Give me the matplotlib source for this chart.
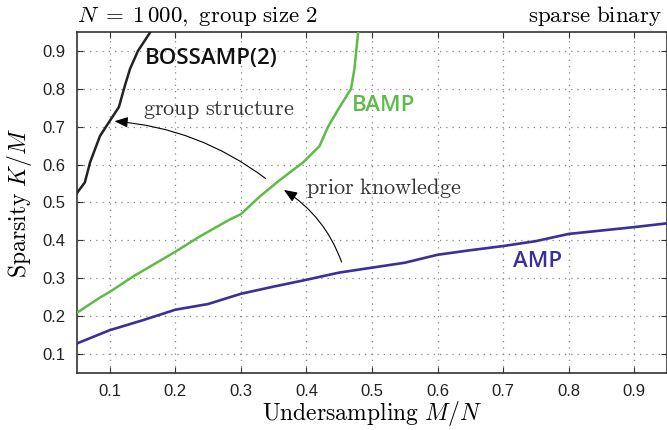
import numpy as np
import matplotlib
matplotlib.use("Agg")
from matplotlib import pyplot as plt

plt.rcParams['mathtext.fontset'] = 'cm'
plt.rcParams['font.family'] = ['Liberation Sans', 'DejaVu Sans']

# phase transition curves (undersampling M/N vs sparsity K/M)
amp_x = [0.05, 0.10, 0.15, 0.20, 0.25, 0.30, 0.35, 0.40, 0.45, 0.50, 0.55,
         0.60, 0.65, 0.70, 0.75, 0.80, 0.85, 0.90, 0.95]
amp_y = [0.128, 0.163, 0.189, 0.217, 0.232, 0.259, 0.278, 0.296, 0.315, 0.328, 0.341,
         0.362, 0.374, 0.385, 0.398, 0.417, 0.426, 0.435, 0.445]

bamp_x = [0.05, 0.085, 0.10, 0.135, 0.20, 0.237, 0.283, 0.30, 0.329, 0.36,
          0.395, 0.42, 0.433, 0.45, 0.468, 0.473, 0.476, 0.479]
bamp_y = [0.209, 0.249, 0.264, 0.304, 0.370, 0.410, 0.455, 0.469, 0.516, 0.560,
          0.606, 0.649, 0.700, 0.750, 0.800, 0.850, 0.900, 0.950]

boss_x = [0.05, 0.062, 0.070, 0.085, 0.095, 0.114, 0.123, 0.131, 0.143, 0.162]
boss_y = [0.525, 0.553, 0.606, 0.675, 0.702, 0.752, 0.808, 0.853, 0.900, 0.950]

xticks = [0.1, 0.2, 0.3, 0.4, 0.5, 0.6, 0.7, 0.8, 0.9]
yticks = [0.1, 0.2, 0.3, 0.4, 0.5, 0.6, 0.7, 0.8, 0.9]

c_amp = '#3b2f98'
c_bamp = '#5dbb46'
c_boss = '#222222'

fig = plt.figure(figsize=(6.67, 4.30), dpi=100)
ax = fig.add_axes([0.1154, 0.1326, 0.8846, 0.793])

ax.plot(amp_x, amp_y, color=c_amp, lw=1.9, zorder=3)
ax.plot(bamp_x, bamp_y, color=c_bamp, lw=1.8, zorder=3)
ax.plot(boss_x, boss_y, color=c_boss, lw=1.8, zorder=3)

ax.set_xlim(0.05, 0.95)
ax.set_ylim(0.05, 0.95)
ax.set_xticks(xticks)
ax.set_yticks(yticks)
ax.set_xticklabels(["%.1f" % v for v in xticks])
ax.set_yticklabels(["%.1f" % v for v in yticks])
ax.tick_params(direction='in', length=4, width=0.8, top=True, right=True,
               labelsize=12, pad=8, color='#333333', labelcolor='#222222')
ax.grid(True, linestyle=(0, (1, 4)), color='#888888', lw=0.9)
for s in ax.spines.values():
    s.set_linewidth(1.2)
    s.set_color('#333333')

ax.set_xlabel(r"$\mathrm{Undersampling}\ M/N$", fontsize=17, labelpad=0)
ax.set_ylabel(r"$\mathrm{Sparsity}\ K/M$", fontsize=17, labelpad=6)

fig.text(0.1154, 0.962, r"$N\;=\;1\,000,\ \mathrm{group\ size\ 2}$", fontsize=16.5,
         ha='left', va='center')
fig.text(0.993, 0.962, r"$\mathrm{sparse\ binary}$", fontsize=16.5,
         ha='right', va='center')

lab = dict(family=['Open Sans', 'DejaVu Sans'], weight='semibold', fontsize=16)
ax.text(0.154, 0.88, "BOSSAMP(2)", color='#111111', va='center', **lab)
ax.text(0.469, 0.755, "BAMP", color=c_bamp, va='center', **lab)
ax.text(0.715, 0.344, "AMP", color=c_amp, va='center', **lab)

ax.text(0.15, 0.745, r"$\mathrm{group\ structure}$", fontsize=16, color='#333333',
        va='center')
ax.text(0.40, 0.537, r"$\mathrm{prior\ knowledge}$", fontsize=16, color='#333333',
        va='center')

arr = dict(arrowstyle='-|>,head_length=0.8,head_width=0.32', color='black', lw=0.8)
ax.annotate("", xy=(0.103, 0.715), xytext=(0.341, 0.559),
            arrowprops=dict(connectionstyle="arc3,rad=0.15", **arr))
ax.annotate("", xy=(0.362, 0.537), xytext=(0.455, 0.336),
            arrowprops=dict(connectionstyle="arc3,rad=0.18", **arr))

fig.savefig("out.png", dpi=100)
